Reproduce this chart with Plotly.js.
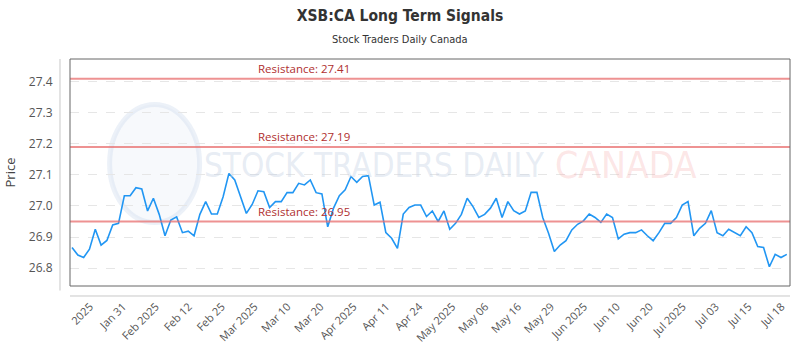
<!DOCTYPE html>
<html>
<head>
<meta charset="utf-8">
<script src="https://cdn.plot.ly/plotly-3.0.1.min.js"></script>
<style>html,body{margin:0;padding:0;background:#fff;}#chart{width:800px;height:350px;}</style>
</head>
<body>
<div id="chart"></div>
<script>
const prices = [
  26.866, 26.842, 26.834, 26.861, 26.925, 26.874, 26.889, 26.939, 26.944, 27.033,
  27.033, 27.059, 27.055, 26.984, 27.025, 26.973, 26.904, 26.955, 26.965, 26.914,
  26.919, 26.904, 26.973, 27.014, 26.974, 26.974, 27.030, 27.105, 27.084, 27.030,
  26.976, 27.005, 27.049, 27.046, 26.995, 27.014, 27.014, 27.043, 27.043, 27.073,
  27.068, 27.084, 27.043, 27.039, 26.933, 26.993, 27.033, 27.052, 27.095, 27.076,
  27.095, 27.098, 27.003, 27.012, 26.914, 26.896, 26.863, 26.974, 26.995, 27.003,
  27.003, 26.966, 26.984, 26.950, 26.984, 26.925, 26.944, 26.973, 27.025, 26.998,
  26.963, 26.973, 26.993, 27.025, 26.963, 27.014, 26.985, 26.974, 26.984, 27.044,
  27.044, 26.963, 26.912, 26.853, 26.874, 26.888, 26.923, 26.941, 26.952, 26.974,
  26.963, 26.947, 26.974, 26.963, 26.894, 26.909, 26.914, 26.914, 26.923, 26.904,
  26.888, 26.914, 26.944, 26.944, 26.963, 27.003, 27.014, 26.904, 26.928, 26.944,
  26.985, 26.914, 26.904, 26.925, 26.914, 26.904, 26.933, 26.914, 26.869, 26.866,
  26.804, 26.844, 26.834, 26.844
];
const tickLabels = ["2025","Jan 31","Feb 2025","Feb 12","Feb 25","Mar 2025","Mar 10","Mar 20",
  "Apr 2025","Apr 11","Apr 24","May 2025","May 06","May 16","May 29","Jun 2025","Jun 10",
  "Jun 20","Jul 2025","Jul 03","Jul 15","Jul 18"];
const resistanceLevels = [27.41, 27.19, 26.95];

const xs = prices.map((_, i) => i);
const n = prices.length;
const firstTick = 3.1, lastTick = n - 1.9;
const step = (lastTick - firstTick) / (tickLabels.length - 1);
const tickVals = tickLabels.map((_, i) => firstTick + i * step);

const trace = {
  x: xs, y: prices, type: 'scatter', mode: 'lines',
  line: {color: '#2196f3', width: 1.6}, hoverinfo: 'skip', showlegend: false
};

const shapes = [];
const annotations = [];
resistanceLevels.forEach(v => {
  shapes.push({type: 'line', xref: 'paper', x0: 0, x1: 1, yref: 'y', y0: v, y1: v,
    line: {color: 'rgba(232,110,110,0.75)', width: 2}, layer: 'above'});
  annotations.push({xref: 'x', x: 31.6, yref: 'y', y: v, yshift: 1, xanchor: 'left', yanchor: 'bottom',
    text: 'Resistance: ' + v.toFixed(2), showarrow: false,
    font: {family: 'Open Sans, sans-serif', size: 11.5, color: '#b03030'}});
});
// frame
shapes.push({type: 'rect', xref: 'paper', yref: 'paper', x0: 0, x1: 1, y0: 0, y1: 1,
  line: {color: '#666', width: 1}, layer: 'above'});
// offset axis lines
shapes.push({type: 'line', xref: 'paper', yref: 'paper', x0: -0.0139, x1: -0.0139, y0: -0.02, y1: 1.0,
  line: {color: '#c8c8c8', width: 1}});
shapes.push({type: 'line', xref: 'paper', yref: 'paper', x0: 0, x1: 1, y0: -0.044, y1: -0.044,
  line: {color: '#c8c8c8', width: 1}});
// watermark logo circle
shapes.push({type: 'circle', xref: 'paper', yref: 'paper', x0: 0.055, x1: 0.18, y0: 0.28, y1: 0.8,
  line: {color: 'rgba(200,215,235,0.35)', width: 5}, fillcolor: 'rgba(225,232,245,0.25)', layer: 'below'});

annotations.push({xref: 'paper', yref: 'paper', x: 0.183, y: 0.53, xanchor: 'left', yanchor: 'middle',
  text: 'STOCK TRADERS DAILY', showarrow: false,
  font: {family: 'DejaVu Sans Condensed, Liberation Sans Narrow, sans-serif', size: 33, color: 'rgba(195,208,228,0.4)'}});
annotations.push({xref: 'paper', yref: 'paper', x: 0.671, y: 0.53, xanchor: 'left', yanchor: 'middle',
  text: 'CANADA', showarrow: false,
  font: {family: 'DejaVu Sans Condensed, Liberation Sans Narrow, sans-serif', size: 37, color: 'rgba(245,170,170,0.3)'}});
annotations.push({xref: 'paper', yref: 'paper', x: 0.458, y: 1.0, yshift: 20, xanchor: 'center', yanchor: 'middle',
  text: 'Stock Traders Daily Canada', showarrow: false,
  font: {family: 'Liberation Sans Narrow, DejaVu Sans Condensed, sans-serif', size: 11, color: '#333'}});

const layout = {
  width: 800, height: 350,
  margin: {l: 70, r: 10, t: 59, b: 64},
  paper_bgcolor: '#fff', plot_bgcolor: '#fff',
  title: {text: '<b>XSB:CA Long Term Signals</b>', x: 0.5, xref: 'container', xanchor: 'center', y: 0.955, yanchor: 'middle',
    font: {family: 'Liberation Sans Narrow, DejaVu Sans Condensed, sans-serif', size: 15.5, color: '#333'}},
  xaxis: {range: [-0.35, 123.55], tickvals: tickVals, ticktext: tickLabels, tickangle: -45,
    showgrid: false, zeroline: false, showline: false,
    ticks: 'outside', ticklen: 9, tickcolor: 'rgba(0,0,0,0)',
    tickfont: {family: 'Open Sans, sans-serif', size: 11, color: '#555'}},
  yaxis: {range: [26.742, 27.474], dtick: 0.1, tick0: 26.8, tickformat: '.1f',
    showgrid: true, gridcolor: '#e6e6e6', griddash: 'dash', zeroline: false, showline: false,
    ticks: 'outside', ticklen: 14, tickcolor: 'rgba(0,0,0,0)',
    tickfont: {family: 'Open Sans, sans-serif', size: 12, color: '#555'},
    title: {text: 'Price', standoff: 10, font: {family: 'Open Sans, sans-serif', size: 13, color: '#444'}}},
  shapes: shapes, annotations: annotations
};

Plotly.newPlot('chart', [trace], layout, {displayModeBar: false, staticPlot: true});
</script>
</body>
</html>
